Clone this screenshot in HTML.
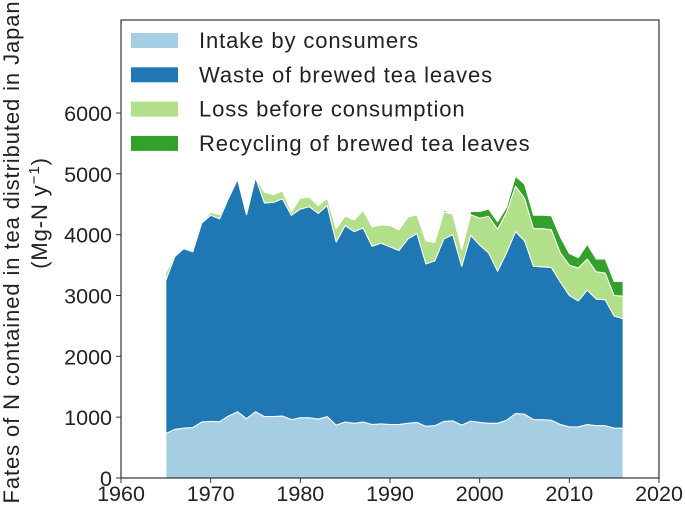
<!DOCTYPE html>
<html><head><meta charset="utf-8"><style>
html,body{margin:0;padding:0;background:#fff;}
svg{display:block;font-family:"Liberation Sans",Arial,sans-serif;}
</style></head><body>
<svg id="chart" width="685" height="505" viewBox="0 0 685 505" xmlns="http://www.w3.org/2000/svg">
<g id="areas"></g>
<rect x="121" y="20" width="538" height="458" fill="none" stroke="#333" stroke-width="1.2"/>
<g id="ticks"></g>
<text transform="translate(19,252) rotate(-90)" text-anchor="middle" font-size="22" letter-spacing="0.9" fill="#222">Fates of N contained in tea distributed in Japan</text>
<text transform="translate(47,213) rotate(-90)" text-anchor="middle" font-size="22" letter-spacing="0.9" fill="#222">(Mg-N y<tspan font-size="15" dy="-8">−1</tspan><tspan dy="8">)</tspan></text>
<g id="legend"></g>
</svg>
<script>
const years = [1965,1966,1967,1968,1969,1970,1971,1972,1973,1974,1975,1976,1977,1978,1979,1980,1981,1982,1983,1984,1985,1986,1987,1988,1989,1990,1991,1992,1993,1994,1995,1996,1997,1998,1999,2000,2001,2002,2003,2004,2005,2006,2007,2008,2009,2010,2011,2012,2013,2014,2015,2016];
const intake = [730,800,820,830,920,930,925,1020,1090,975,1090,1010,1010,1020,960,990,990,970,1010,870,920,900,920,880,890,880,880,900,915,850,860,930,940,870,935,915,900,900,950,1060,1050,960,960,950,880,840,840,880,860,860,820,820];
const waste = [2520,2840,2950,2890,3270,3390,3335,3580,3820,3355,3850,3510,3520,3570,3360,3430,3470,3380,3470,3010,3230,3150,3190,2930,2970,2920,2860,3030,3105,2670,2710,3000,3060,2610,3055,2915,2800,2500,2750,2990,2850,2520,2510,2510,2340,2160,2070,2210,2080,2070,1840,1800];
const loss = [130,20,0,0,10,50,70,0,0,0,0,180,130,130,60,180,160,130,120,220,160,190,290,320,300,350,340,360,310,380,300,440,340,280,340,440,600,690,670,750,700,620,630,620,480,500,540,510,450,440,340,370];
const recycling = [0,0,0,0,0,0,0,0,0,0,0,0,0,0,0,0,0,0,0,0,0,0,0,0,0,0,0,0,0,0,0,30,0,0,50,110,120,120,80,160,230,220,220,230,260,190,170,240,210,230,230,240];
const seriesNames = ["Intake by consumers","Waste of brewed tea leaves","Loss before consumption","Recycling of brewed tea leaves"];
const xTicks = [1960,1970,1980,1990,2000,2010,2020];
const yTicks = [0,1000,2000,3000,4000,5000,6000];

const NS="http://www.w3.org/2000/svg";
const X0=121,X1=659,Y0=478,Y6=113;
function xs(v){return X0+(v-1960)/60*(X1-X0);}
function ys(v){return Y0-(v/6000)*(Y0-Y6);}
const colors=["#a6cee3","#1f78b4","#b2df8a","#33a02c"];
const series=[intake,waste,loss,recycling];
const keys=["intake","waste","loss","recycling"];
const areas=document.getElementById('areas');
let base=years.map(()=>0);
series.forEach((s,k)=>{
  const top=base.map((b,i)=>b+s[i]);
  let d="";
  years.forEach((y,i)=>{d+=(i?"L":"M")+xs(y).toFixed(2)+","+ys(top[i]).toFixed(2);});
  for(let i=years.length-1;i>=0;i--){d+="L"+xs(years[i]).toFixed(2)+","+ys(base[i]).toFixed(2);}
  d+="Z";
  const p=document.createElementNS(NS,'path');
  p.setAttribute('d',d);p.setAttribute('fill',colors[k]);p.setAttribute('stroke','#fff');p.setAttribute('stroke-width','1');p.setAttribute('stroke-linejoin','round');
  
  
  areas.appendChild(p);
  base=top;
});
const tk=document.getElementById('ticks');
xTicks.forEach(t=>{
  const l=document.createElementNS(NS,'line');
  l.setAttribute('x1',xs(t));l.setAttribute('x2',xs(t));l.setAttribute('y1',Y0);l.setAttribute('y2',Y0+5);l.setAttribute('stroke','#333');
  
  
  tk.appendChild(l);
  const tx=document.createElementNS(NS,'text');
  tx.setAttribute('x',xs(t));tx.setAttribute('y',Y0+23);tx.setAttribute('text-anchor','middle');tx.setAttribute('font-size','21.5');tx.setAttribute('fill','#222');
  tx.textContent=t;
  
  
  tk.appendChild(tx);
});
yTicks.forEach(t=>{
  const l=document.createElementNS(NS,'line');
  l.setAttribute('x1',X0-5);l.setAttribute('x2',X0);l.setAttribute('y1',ys(t));l.setAttribute('y2',ys(t));l.setAttribute('stroke','#333');
  
  
  tk.appendChild(l);
  const tx=document.createElementNS(NS,'text');
  tx.setAttribute('x',X0-9);tx.setAttribute('y',ys(t)+8);tx.setAttribute('text-anchor','end');tx.setAttribute('font-size','21.5');tx.setAttribute('fill','#222');
  tx.textContent=t;
  
  
  tk.appendChild(tx);
});
const lg=document.getElementById('legend');
seriesNames.forEach((n,k)=>{
  const cy=40+k*34.3;
  const r=document.createElementNS(NS,'rect');
  r.setAttribute('x',131);r.setAttribute('y',cy-7);r.setAttribute('width',47);r.setAttribute('height',15);r.setAttribute('fill',colors[k]);
  
  
  lg.appendChild(r);
  const tx=document.createElementNS(NS,'text');
  tx.setAttribute('x',199);tx.setAttribute('y',cy+8);tx.setAttribute('font-size','22');tx.setAttribute('letter-spacing','0.9');tx.setAttribute('fill','#222');
  tx.textContent=n;
  
  
  lg.appendChild(tx);
});
</script>
</body></html>
